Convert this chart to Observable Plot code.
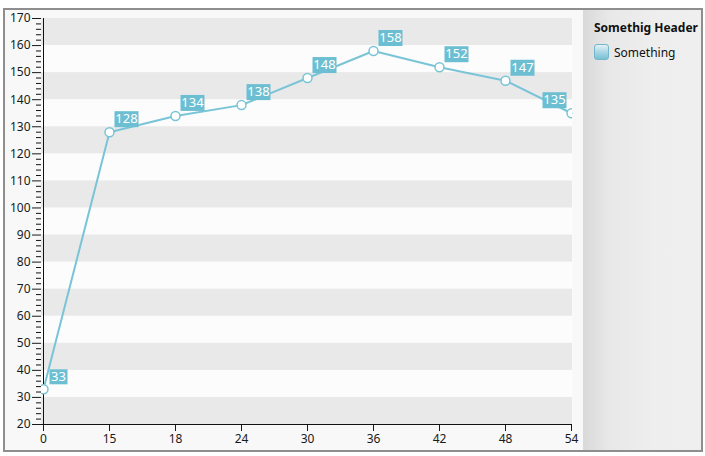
<!DOCTYPE html>
<html>
<head>
<meta charset="utf-8">
<script src="https://cdn.jsdelivr.net/npm/d3@7"></script>
<script src="https://cdn.jsdelivr.net/npm/@observablehq/plot@0.6"></script>
<style>
  body { margin: 0; background: #fff; width: 705px; height: 456px; overflow: hidden; position: relative;
         font-family: "Segoe UI", "Noto Sans", sans-serif; }
  #frame { position: absolute; left: 3px; top: 8px; width: 696px; height: 440px;
           border: 2px solid #8e8e8e; background: #f8f8f8; }
  #chart { position: absolute; left: 0; top: 0; }
  #legend { position: absolute; left: 578px; top: 0; width: 118px; height: 440px;
            background: linear-gradient(to right, #d9d9d9, #e8e8e8 22%, #eeeeee 60%, #efefef); }
  #legend .title { position: absolute; left: 11px; top: 10px; font-size: 12px; font-weight: bold;
                   line-height: 16px; color: #111; white-space: nowrap; }
  #legend .item { position: absolute; left: 11px; top: 34px; font-size: 12px; line-height: 16px;
                  color: #111; white-space: nowrap; }
  #legend .swatch { display: inline-block; width: 13px; height: 14px; vertical-align: -3px;
                    border: 1px solid #74b6cb; border-radius: 3px; margin-right: 5px;
                    background: linear-gradient(to bottom, #e3f2f7, #a9d7e5 50%, #79c1d4); }
</style>
</head>
<body>
<div id="frame">
  <div id="chart"></div>
  <div id="legend">
    <div class="title">Somethig Header</div>
    <div class="item"><span class="swatch"></span>Something</div>
  </div>
</div>
<script>
const categories = ["0", "15", "18", "24", "30", "36", "42", "48", "54"];
const values = [33, 128, 134, 138, 148, 158, 152, 147, 135];
const majorTicks = [20, 30, 40, 50, 60, 70, 80, 90, 100, 110, 120, 130, 140, 150, 160, 170];
const seriesName = "Something";

const minorTicks = d3.range(20, 171, 2).filter(v => v % 10 !== 0);
const bandStarts = majorTicks.filter((v, i) => i % 2 === 0 && v < 170);

const data = categories.map((c, i) => ({x: c, y: values[i], label: String(values[i]), i}));
const lineColor = "#79c4d6";
const boxColor = "#6cbfd2";

function boxSymbol(x0, y0, w, h) {
  return { draw(context) { context.rect(x0, y0, w, h); } };
}

const first = data.filter(d => d.i === 0);
const middle = data.filter(d => d.i > 0 && d.i < data.length - 1);
const last = data.filter(d => d.i === data.length - 1);

const chart = Plot.plot({
  width: 578,
  height: 440,
  marginLeft: 36,
  marginRight: 11,
  marginTop: 8,
  marginBottom: 26,
  style: { background: "transparent", fontFamily: "'Segoe UI', 'Noto Sans', sans-serif", fontSize: "12px", overflow: "visible" },
  x: { type: "point", domain: categories, padding: 0, label: null },
  y: { domain: [20, 170], label: null },
  marks: [
    Plot.frame({ fill: "#fcfcfc", stroke: null }),
    Plot.rect(bandStarts, { y1: d => d, y2: d => d + 10, fill: "#e9e9e9" }),
    Plot.axisY(minorTicks, { tickSize: 5, tickFormat: () => "", stroke: "#111", label: null }),
    Plot.axisY(majorTicks, { tickSize: 9, tickPadding: 2, fontSize: 12, color: "#1a1a1a", label: null }),
    Plot.axisX({ tickSize: 7, tickPadding: 3, fontSize: 12, color: "#1a1a1a", label: null }),
    Plot.ruleX([categories[0]], { stroke: "#111" }),
    Plot.ruleY([20], { stroke: "#111" }),
    Plot.line(data, { x: "x", y: "y", stroke: lineColor, strokeWidth: 2 }),
    Plot.dot(data, { x: "x", y: "y", r: 4.5, fill: "white", stroke: lineColor, strokeWidth: 1.5, clip: true }),
    Plot.dot(first, { x: "x", y: "y", symbol: boxSymbol(6, -20, 18, 15), fill: boxColor }),
    Plot.dot(middle, { x: "x", y: "y", symbol: boxSymbol(5, -21, 24, 16), fill: boxColor }),
    Plot.dot(last, { x: "x", y: "y", symbol: boxSymbol(-29, -21, 24, 16), fill: boxColor }),
    Plot.text(first, { x: "x", y: "y", text: "label", dx: 15, dy: -12.5, fill: "white", fontSize: 13, textAnchor: "middle" }),
    Plot.text(middle, { x: "x", y: "y", text: "label", dx: 17, dy: -13, fill: "white", fontSize: 13, textAnchor: "middle" }),
    Plot.text(last, { x: "x", y: "y", text: "label", dx: -17, dy: -13, fill: "white", fontSize: 13, textAnchor: "middle" })
  ]
});
document.getElementById("chart").appendChild(chart);
</script>
</body>
</html>
